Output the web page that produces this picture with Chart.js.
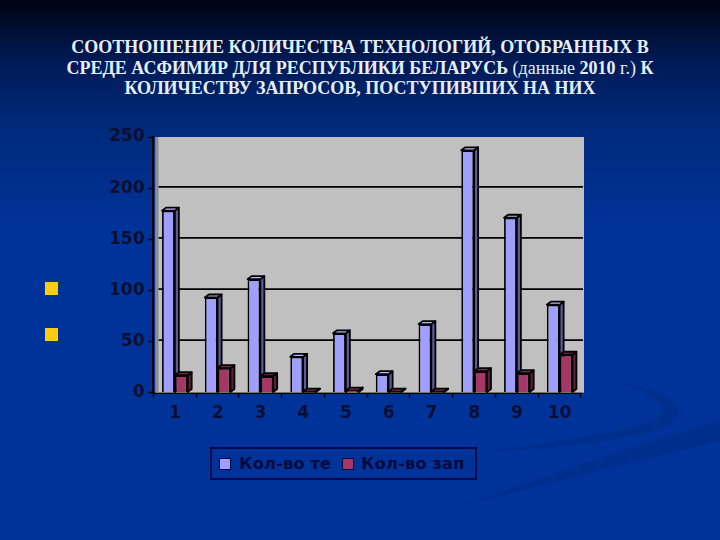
<!DOCTYPE html>
<html>
<head>
<meta charset="utf-8">
<script src="https://cdn.jsdelivr.net/npm/chart.js@4"></script>
<style>
  html, body { margin: 0; padding: 0; }
  body {
    width: 720px; height: 540px; overflow: hidden; position: relative;
    background: linear-gradient(to bottom, #000311 0px, #001a55 60px, #002a7c 130px, #003399 230px, #003399 540px);
  }
  #swoosh { position: absolute; left: 0; top: 0; }
  #chart { position: absolute; left: 0; top: 0; }
  #title {
    position: absolute; left: 0; top: 37px; width: 720px; text-align: center;
    font: bold 18px/20.5px "Liberation Serif", serif; color: #e6eefc;
  }
  #title span { font-weight: normal; }
  .bullet { position: absolute; left: 45px; width: 13px; height: 13px; background: #ffcc11; }
  #legend {
    position: absolute; left: 210px; top: 447px; width: 263px; height: 29px;
    border: 2px solid #000a4a;
    font: bold 16.5px "DejaVu Sans", sans-serif; color: #000a3c;
  }
  #legend .sw { position: absolute; top: 9px; width: 10px; height: 10px; border: 1.5px solid #000a3c; }
  #legend .tx { position: absolute; top: 5px; white-space: nowrap; }
</style>
</head>
<body>
<svg id="swoosh" width="720" height="540">
  <path d="M720 420 C640 445 560 470 462 506 C540 485 640 460 720 441 Z" fill="#00297f" opacity="0.5"/>
  <path d="M613 380 C660 390 682 403 677 416 C668 436 590 445 483 453 C570 438 655 430 663 413 C665 402 650 392 613 380 Z" fill="#00297f" opacity="0.5"/>
</svg>
<div id="title">СООТНОШЕНИЕ КОЛИЧЕСТВА ТЕХНОЛОГИЙ, ОТОБРАННЫХ В<br>СРЕДЕ АСФИМИР ДЛЯ РЕСПУБЛИКИ БЕЛАРУСЬ <span>(данные</span> 2010 <span>г.)</span> К<br>КОЛИЧЕСТВУ ЗАПРОСОВ, ПОСТУПИВШИХ НА НИХ</div>
<div class="bullet" style="top:282px"></div>
<div class="bullet" style="top:328px"></div>
<canvas id="chart" width="720" height="540"></canvas>
<div id="legend"></div>
<script>
const categories = ['1', '2', '3', '4', '5', '6', '7', '8', '9', '10'];
const seriesNames = ['Кол-во те', 'Кол-во зап'];
const techCount = [178, 93, 111, 35, 58, 18, 67, 237, 171, 86];
const requestCount = [17, 24, 16, 1, 2, 1, 1, 21, 19, 37];
const yTicks = [0, 50, 100, 150, 200, 250];

const frontColors = ['#9f9fff', '#a33768'];
const sideColors = ['#5c5c99', '#5c1f3d'];
const topColors = ['#b8b8ff', '#7a2952'];
const inkColor = '#0a0f30';

// grey back wall and its lines, sits a little behind the axes
const backWall = {
  id: 'backWall',
  beforeDatasetsDraw(chart) {
    const { ctx, chartArea: a, scales: { y } } = chart;
    ctx.save();
    ctx.fillStyle = '#c0c0c0';
    ctx.fillRect(a.left + 2, a.top, a.right - a.left + 1, a.bottom - a.top);
    ctx.fillStyle = '#8c8c8c';
    ctx.fillRect(a.left + 2, a.top, 3, a.bottom - a.top);
    ctx.strokeStyle = '#000000';
    ctx.lineWidth = 1.8;
    yTicks.slice(1, -1).forEach(v => {
      const py = y.getPixelForValue(v) - 1.3;
      ctx.beginPath();
      ctx.moveTo(a.left + 5, py);
      ctx.lineTo(a.right + 2, py);
      ctx.stroke();
    });
    ctx.restore();
  }
};

// fake 3d: side and top faces from each bar's own position
const barDepth = {
  id: 'barDepth',
  beforeDatasetsDraw(chart) {
    const { ctx } = chart;
    const dx = 4, dy = 3;
    chart.data.datasets.forEach((ds, di) => {
      chart.getDatasetMeta(di).data.forEach(bar => {
        const l = bar.x - bar.width / 2, r = bar.x + bar.width / 2;
        const t = bar.y, b = bar.base;
        ctx.save();
        ctx.strokeStyle = '#000000';
        ctx.lineWidth = 1.8;
        ctx.lineJoin = 'round';
        ctx.fillStyle = sideColors[di];
        ctx.beginPath();
        ctx.moveTo(r, t); ctx.lineTo(r + dx, t - dy); ctx.lineTo(r + dx, b - dy); ctx.lineTo(r, b);
        ctx.closePath(); ctx.fill(); ctx.stroke();
        ctx.fillStyle = topColors[di];
        ctx.beginPath();
        ctx.moveTo(l, t); ctx.lineTo(l + dx, t - dy); ctx.lineTo(r + dx, t - dy); ctx.lineTo(r, t);
        ctx.closePath(); ctx.fill(); ctx.stroke();
        ctx.restore();
      });
    });
  }
};

new Chart(document.getElementById('chart'), {
  type: 'bar',
  data: {
    labels: categories,
    datasets: [
      { label: seriesNames[0], data: techCount, backgroundColor: frontColors[0], borderColor: '#000000', borderWidth: 1.8 },
      { label: seriesNames[1], data: requestCount, backgroundColor: frontColors[1], borderColor: '#000000', borderWidth: 1.8 }
    ]
  },
  options: {
    responsive: false,
    animation: false,
    devicePixelRatio: 1,
    layout: { padding: { left: 105, right: 139, top: 137, bottom: 110 } },
    categoryPercentage: 0.6,
    barPercentage: 1,
    plugins: { legend: { display: false }, title: { display: false }, tooltip: { enabled: false } },
    scales: {
      x: {
        grid: { drawOnChartArea: false, color: '#000000', tickLength: 5, tickWidth: 1.5 },
        border: { color: '#000000', width: 2 },
        ticks: { color: inkColor, font: { family: 'DejaVu Sans', size: 17, weight: 'bold' }, padding: 6, maxRotation: 0 }
      },
      y: {
        min: 0,
        max: 250,
        afterBuildTicks(axis) { axis.ticks = yTicks.map(v => ({ value: v })); },
        grid: { drawOnChartArea: false, color: '#000000', tickLength: 5, tickWidth: 1.5 },
        border: { color: '#000000', width: 2 },
        ticks: { color: inkColor, font: { family: 'DejaVu Sans', size: 17, weight: 'bold' }, padding: 4 }
      }
    }
  },
  plugins: [backWall, barDepth]
});

// legend box
const legendBox = document.getElementById('legend');
const swatchLeft = [7, 130];
const textLeft = [27, 149];
seriesNames.forEach((name, i) => {
  const sw = document.createElement('div');
  sw.className = 'sw';
  sw.style.left = swatchLeft[i] + 'px';
  sw.style.background = frontColors[i];
  const tx = document.createElement('div');
  tx.className = 'tx';
  tx.style.left = textLeft[i] + 'px';
  tx.textContent = name;
  legendBox.appendChild(sw);
  legendBox.appendChild(tx);
});
</script>
</body>
</html>
